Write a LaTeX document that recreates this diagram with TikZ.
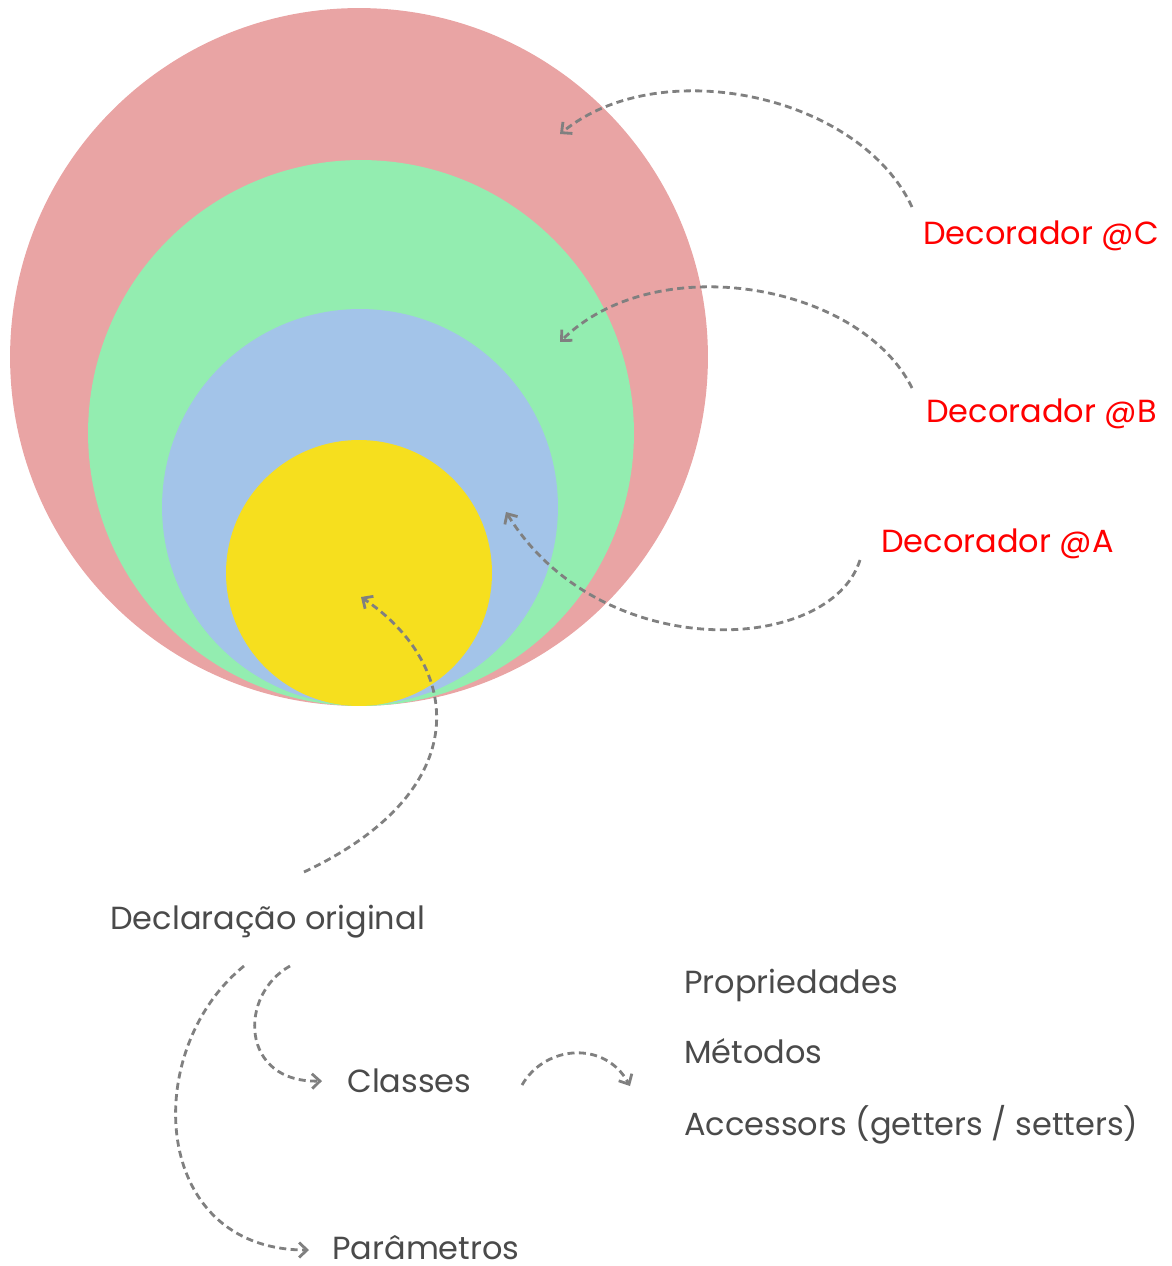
\documentclass[tikz,border=0pt]{standalone}
\usepackage{fontspec}
\setmainfont{Poppins}
\usepackage{xcolor}
\usepackage{tikz}
\usetikzlibrary{arrows.meta, positioning}

\definecolor{ringC}{HTML}{E9A4A4}
\definecolor{ringB}{HTML}{93EDB0}
\definecolor{ringA}{HTML}{A3C4E9}
\definecolor{core}{HTML}{F6DF1E}
\definecolor{linkgrey}{HTML}{808080}
\definecolor{textgrey}{HTML}{4A4A4A}

\begin{document}
\begin{tikzpicture}[
        x=0.02cm, y=-0.02cm,
        ring/.style={circle, draw=none, inner sep=0pt},
        item/.style={anchor=base west, inner sep=0pt, text=textgrey, font=\fontsize{18.2}{22}\selectfont},
        deco/.style={anchor=base west, inner sep=0pt, text=red, font=\fontsize{18.2}{22}\selectfont},
        arrow/.style={line width=1.6pt, draw=linkgrey, dash pattern=on 4pt off 2.5pt, -{Straight Barb[length=4.5pt, width=8.5pt]}}
    ]
    \useasboundingbox (0,0) rectangle (1171,1266);

    % Nested circles
    \node (ringC) [ring, fill=ringC, minimum size=13.96cm] at (359,357) {};
    \node (ringB) [ring, fill=ringB, minimum size=10.92cm] at (361,433) {};
    \node (ringA) [ring, fill=ringA, minimum size=7.92cm] at (360,507) {};
    \node (core) [ring, fill=core, minimum size=5.32cm] at (359,573) {};

    % Labels
    \node (decC) [deco] at (923,245) {Decorador @C};
    \node (decB) [deco] at (926,423) {Decorador @B};
    \node (decA) [deco] at (881,552) {Decorador @A};
    \node (orig) [item] at (110,929) {Declaração original};
    \node (classes) [item] at (347,1092) {Classes};
    \node (params) [item] at (332,1259) {Parâmetros};
    \node (props) [item] at (684,993) {Propriedades};
    \node (methods) [item, below=1.42cm of props.base west, anchor=base west] {Métodos};
    \node (access) [item, below=1.44cm of methods.base west, anchor=base west] {Accessors (getters / setters)};

    % Arrow ends
    \coordinate (cTail) at ([shift={(-11,-38)}]decC.base west);
    \coordinate (cHead) at (560,134);
    \coordinate (bTail) at ([shift={(-14,-35)}]decB.base west);
    \coordinate (bHead) at (560,342);
    \coordinate (aTail) at ([shift={(-21,8)}]decA.base west);
    \coordinate (aHead) at (506,512);
    \coordinate (oTail) at (304,872);
    \coordinate (oHead) at (361,597);
    \coordinate (clTail) at (290,966);
    \coordinate (clHead) at (322,1081);
    \coordinate (pTail) at (244,966);
    \coordinate (pHead) at (309,1250);
    \coordinate (mTail) at (522,1085);
    \coordinate (mHead) at (630,1086);

    % Arrows
    \draw [arrow] (cTail) .. controls (860,95) and (660,52) .. (cHead);
    \draw [arrow] (bTail) .. controls (860,283) and (655,248) .. (bHead);
    \draw [arrow] (aTail) .. controls (830,655) and (600,665) .. (aHead);
    \draw [arrow] (oTail) .. controls (478,790) and (462,665) .. (oHead);
    \draw [arrow] (clTail) .. controls (238,995) and (240,1083) .. (clHead);
    \draw [arrow] (pTail) .. controls (140,1050) and (150,1250) .. (pHead);
    \draw [arrow] (mTail) .. controls (545,1045) and (605,1040) .. (mHead);

\end{tikzpicture}
\end{document}
